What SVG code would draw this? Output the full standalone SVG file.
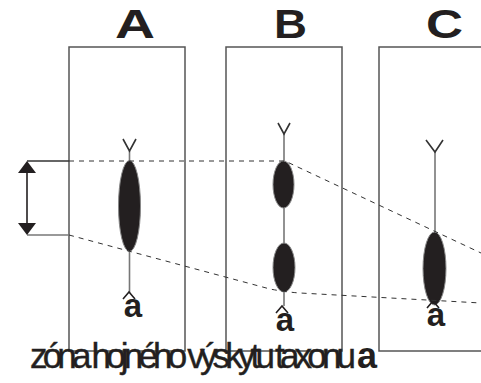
<svg xmlns="http://www.w3.org/2000/svg" width="481" height="383" viewBox="0 0 481 383">
<style>
.box{fill:none;stroke:#555;stroke-width:1.5}
.stem{fill:none;stroke:#777;stroke-width:1.6}
.fork{fill:none;stroke:#333;stroke-width:1.6}
.ell{fill:#231f20;stroke:#888;stroke-width:1}
.dash{fill:none;stroke:#333;stroke-width:1;stroke-dasharray:5 5}
.big{font-family:"Liberation Sans",Arial,sans-serif;font-weight:bold;font-size:41px;fill:#231f20}
.sm{font-family:"Liberation Sans",Arial,sans-serif;font-weight:bold;font-size:33px;fill:#231f20}
.cap{fill:none;stroke:#231f20;stroke-width:1.6}
</style>
<rect width="481" height="383" fill="#fff"/>
<g id="colA">
<rect class="box" x="69" y="47" width="116" height="304"/>
<text class="big" x="115" y="38" textLength="40" lengthAdjust="spacingAndGlyphs">A</text>
<line class="stem" x1="129.5" y1="151" x2="129.5" y2="293"/>
<polyline class="fork" points="123,139 129.5,151 136,139"/>
<ellipse class="ell" cx="129.5" cy="206" rx="11" ry="45.5"/>
<text class="sm" x="133" y="317" text-anchor="middle">a</text>
<polyline class="cap" points="123,299 129,292 135,299"/>
</g>
<g id="colB">
<rect class="box" x="226" y="47" width="116" height="304"/>
<text class="big" x="274" y="38" textLength="33" lengthAdjust="spacingAndGlyphs">B</text>
<line class="stem" x1="284" y1="134" x2="284" y2="306"/>
<polyline class="fork" points="278,123 284,134 290,123"/>
<ellipse class="ell" cx="283.5" cy="184.5" rx="10.5" ry="23.5"/>
<ellipse class="ell" cx="284" cy="267.5" rx="11" ry="24.5"/>
<text class="sm" x="285" y="331" text-anchor="middle">a</text>
<polyline class="cap" points="276,313 282,306 288,313"/>
</g>
<g id="colC">
<rect class="box" x="379" y="47" width="110" height="304"/>
<text class="big" x="426" y="38" textLength="37" lengthAdjust="spacingAndGlyphs">C</text>
<line class="stem" x1="435" y1="152" x2="435" y2="305"/>
<polyline class="fork" points="426,140 435,152 443,140"/>
<ellipse class="ell" cx="434.5" cy="268.5" rx="11.5" ry="36.5"/>
<text class="sm" x="436" y="326" text-anchor="middle">a</text>
<polyline class="cap" points="427,308 433,301 439,308"/>
</g>
<g id="connectors">
<line x1="27" y1="161" x2="69" y2="161" stroke="#333" stroke-width="1.3"/>
<line x1="27" y1="235" x2="69" y2="235" stroke="#777" stroke-width="1.5"/>
<line x1="27" y1="171" x2="27" y2="225" stroke="#231f20" stroke-width="1.6"/>
<polygon points="27,161 18,173 36,173" fill="#231f20"/>
<polygon points="27,235 18,223 36,223" fill="#231f20"/>
<path class="dash" d="M69,161 L285,161 L481,253"/>
<path class="dash" d="M69,235 L270,289 Q285,292 300,293 L481,303"/>
</g>
<text x="30" y="368" font-family="'Liberation Sans',Arial,sans-serif" font-size="35" fill="#231f20" stroke="#231f20" stroke-width="0.4" textLength="326" lengthAdjust="spacing">zóna hojného výskytu taxonu</text>
<text x="357" y="368" font-family="'Liberation Sans',Arial,sans-serif" font-weight="bold" font-size="36" fill="#231f20">a</text>
</svg>
